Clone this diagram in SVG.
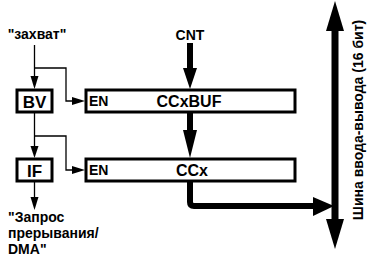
<svg xmlns="http://www.w3.org/2000/svg" width="368" height="263" viewBox="0 0 368 263">
<style>
text{font-family:"Liberation Sans",Arial,sans-serif;font-weight:bold;fill:#000}
.box{fill:#fff;stroke:#000;stroke-width:3}
.thin{fill:none;stroke:#000;stroke-width:1.3}
.thick{fill:none;stroke:#000;stroke-width:6}
.head{fill:#000;stroke:none}
.t14{font-size:14px}
.t16{font-size:16px}
.t17{font-size:17px}
</style>
<rect width="368" height="263" fill="#fff"/>
<g id="connectors">
<path class="thin" d="M34.5,45V77M34.5,68H66V101H73"/>
<polygon class="head" points="30.5,76 38.5,76 34.5,89"/>
<polygon class="head" points="72,97 72,105 85,101"/>
<path class="thin" d="M34.5,113V147M34.5,136H66V170H73"/>
<polygon class="head" points="30.5,146 38.5,146 34.5,158"/>
<polygon class="head" points="72,166 72,174 85,170"/>
<path class="thin" d="M34.5,182V199"/>
<polygon class="head" points="30.5,197 38.5,197 34.5,210"/>
<path class="thick" d="M190,43V70"/>
<polygon class="head" points="183,68 197,68 190,89"/>
<path class="thick" d="M190,113V132"/>
<polygon class="head" points="183,130 197,130 190,158"/>
<path class="thick" stroke-linecap="round" d="M190,181V202Q190,206 194,206H315"/>
<polygon class="head" points="313,197 313,216 334,206"/>
<path class="thick" style="stroke-width:7" d="M335,28V222"/>
<polygon class="head" points="326,31 344,31 335,1"/>
<polygon class="head" points="326,219 344,219 335,249"/>
</g>
<g id="capture"><text class="t14" x="37" y="39" text-anchor="middle">"захват"</text></g>
<g id="cnt"><text class="t14" x="190" y="40" text-anchor="middle">CNT</text></g>
<g id="bv"><rect class="box" x="17" y="90" width="35" height="22"/><text class="t17" x="34.5" y="107.5" text-anchor="middle">BV</text></g>
<g id="if"><rect class="box" x="17" y="159" width="35" height="22"/><text class="t17" x="34.5" y="176.5" text-anchor="middle">IF</text></g>
<g id="ccxbuf"><rect class="box" x="86" y="90" width="209" height="22"/><text class="t14" x="89" y="106">EN</text><text class="t16" x="189" y="107" text-anchor="middle">CCxBUF</text></g>
<g id="ccx"><rect class="box" x="86" y="159" width="209" height="22"/><text class="t14" x="89" y="175">EN</text><text class="t16" x="192" y="176" text-anchor="middle">CCx</text></g>
<g id="irq"><text class="t14" x="8" y="222">"Запрос</text><text class="t14" x="8" y="238">прерывания/</text><text class="t14" x="8" y="254">DMA"</text></g>
<g id="bus"><text class="t14" transform="translate(363,120) rotate(-90)" text-anchor="middle">Шина ввода-вывода (16 бит)</text></g>
</svg>
